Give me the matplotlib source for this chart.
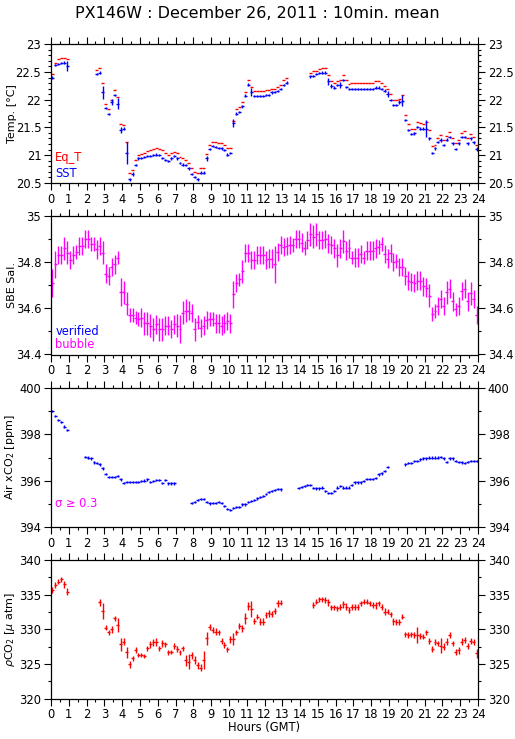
import numpy as np
import matplotlib
matplotlib.use("Agg")
import matplotlib.pyplot as plt
from matplotlib.ticker import MultipleLocator

nan = np.nan

# 10 minute means, 144 per day
eq_t = [22.46, 22.67, 22.74, 22.75, 22.76, 22.73,
        nan, nan, nan, nan, nan, nan, nan, nan, nan,
        22.54, 22.58, 22.30, 21.93, 21.84, 22.00, 22.17, 22.05, 21.56, 21.55, 21.23, 20.67, 20.74, 20.91, 21.01,
        21.02, 21.04, 21.07, 21.09, 21.11, 21.12, 21.11, 21.09, 21.04, 21.00, 21.03, 21.05,
        21.04, 20.97, 20.94, 20.91, 20.86, 20.76, 20.70, 20.67, 20.76, 20.76, 21.02, 21.19,
        21.24, 21.23, 21.22, 21.21, 21.18, 21.12, 21.12, 21.61, 21.83, 21.86, 21.96, 22.13,
        22.36, 22.23, 22.16, 22.16,
        22.16, 22.16, 22.17, 22.17, 22.20, 22.20, 22.23, 22.27, 22.36, 22.40,
        nan, nan, nan, nan, nan, nan, nan,
        22.49, 22.51, 22.52, 22.55, 22.57, 22.58, 22.45, 22.33, 22.31, 22.34, 22.36, 22.45, 22.36,
        22.28, 22.31, 22.31, 22.31, 22.31, 22.31, 22.31, 22.31, 22.31,
        22.33, 22.34, 22.31, 22.25, 22.19, 22.10, 22.00, 22.00, 22.02, 22.08,
        21.72, 21.56, 21.47, 21.48, 21.60, 21.58, 21.57, 21.59, 21.45, 21.16, 21.19, 21.30, 21.37,
        21.27, 21.35, 21.41, 21.30, 21.21, 21.27, 21.40, 21.43, 21.30, 21.38, 21.33, 21.19]

sst = [22.40, 22.62, 22.64, 22.66, 22.67, 22.60,
       nan, nan, nan, nan, nan, nan, nan, nan, nan,
       22.47, 22.49, 22.13, 21.85, 21.74, 21.96, 22.08, 21.93, 21.45, 21.48, 21.04, 20.56, 20.66, 20.82, 20.94,
       20.95, 20.96, 20.98, 20.99, 21.00, 21.01, 21.00, 20.95, 20.91, 20.89, 20.94, 20.98,
       20.94, 20.86, 20.83, 20.82, 20.76, 20.66, 20.61, 20.56, 20.68, 20.68, 20.94, 21.11,
       21.16, 21.15, 21.13, 21.12, 21.09, 21.01, 21.04, 21.58, 21.75, 21.78, 21.88, 22.07,
       22.27, 22.14, 22.07, 22.07,
       22.07, 22.07, 22.08, 22.08, 22.13, 22.14, 22.16, 22.19, 22.27, 22.31,
       nan, nan, nan, nan, nan, nan, nan,
       22.42, 22.43, 22.46, 22.48, 22.49, 22.49, 22.33, 22.25, 22.22, 22.27, 22.27, 22.36, 22.23,
       22.19, 22.19, 22.19, 22.19, 22.19, 22.19, 22.19, 22.19, 22.19,
       22.22, 22.22, 22.20, 22.16, 22.10, 21.99, 21.90, 21.90, 21.96, 21.98,
       21.63, 21.46, 21.38, 21.39, 21.51, 21.48, 21.48, 21.48, 21.30, 21.04, 21.12, 21.24, 21.27,
       21.18, 21.28, 21.32, 21.21, 21.11, 21.21, 21.32, 21.32, 21.21, 21.30, 21.23, 21.11]

sst_sd = [0.03, 0.02, 0.02, 0.02, 0.02, 0.09, 0, 0, 0, 0, 0, 0,
          0, 0, 0, 0.02, 0.02, 0.12, 0.02, 0.02, 0.05, 0.02, 0.10, 0.06,
          0.03, 0.20, 0.02, 0.03, 0.02, 0.02, 0.02, 0.02, 0.02, 0.02, 0.02, 0.02,
          0.02, 0.02, 0.02, 0.02, 0.02, 0.02, 0.02, 0.02, 0.02, 0.02, 0.02, 0.02,
          0.02, 0.02, 0.03, 0.03, 0.05, 0.02, 0.02, 0.02, 0.02, 0.02, 0.02, 0.02,
          0.02, 0.07, 0.02, 0.02, 0.03, 0.03, 0.03, 0.08, 0.02, 0.02, 0.02, 0.02,
          0.02, 0.02, 0.02, 0.02, 0.02, 0.02, 0.02, 0.02, 0, 0, 0, 0,
          0, 0, 0, 0.02, 0.02, 0.02, 0.02, 0.02, 0.02, 0.07, 0.03, 0.02,
          0.02, 0.05, 0.02, 0.02, 0.02, 0.02, 0.02, 0.02, 0.02, 0.02, 0.02, 0.02,
          0.02, 0.02, 0.02, 0.02, 0.03, 0.05, 0.02, 0.02, 0.02, 0.03, 0.10, 0.02,
          0.02, 0.02, 0.02, 0.02, 0.02, 0.02, 0.15, 0.02, 0.02, 0.02, 0.02, 0.03,
          0.02, 0.02, 0.02, 0.03, 0.02, 0.03, 0.02, 0.02, 0.03, 0.03, 0.03, 0.03]

sal = [34.71, 34.79, 34.83, 34.83, 34.86, 34.84, 34.81, 34.83, 34.845, 34.87, 34.87, 34.90,
       34.90, 34.88, 34.88, 34.855, 34.87, 34.84, 34.75, 34.74, 34.78, 34.79, 34.82, 34.67,
       34.67, 34.62, 34.57, 34.57, 34.56, 34.555, 34.56, 34.535, 34.535, 34.525, 34.51, 34.53,
       34.51, 34.51, 34.525, 34.525, 34.51, 34.53, 34.525, 34.51, 34.58, 34.59, 34.59, 34.58,
       34.51, 34.54, 34.515, 34.525, 34.55, 34.555, 34.555, 34.535, 34.535, 34.525, 34.535, 34.545,
       34.535, 34.66, 34.71, 34.725, 34.76, 34.84, 34.84, 34.81, 34.81, 34.83, 34.83, 34.83,
       34.81, 34.815, 34.815, 34.79, 34.845, 34.875, 34.865, 34.87, 34.875, 34.875, 34.90, 34.90,
       34.885, 34.86, 34.895, 34.92, 34.91, 34.92, 34.895, 34.895, 34.90, 34.88, 34.875, 34.86,
       34.83, 34.86, 34.89, 34.85, 34.86, 34.82, 34.82, 34.82, 34.835, 34.82, 34.85, 34.85,
       34.85, 34.86, 34.865, 34.88, 34.835, 34.815, 34.84, 34.80, 34.805, 34.78, 34.78, 34.74,
       34.72, 34.715, 34.71, 34.72, 34.72, 34.695, 34.69, 34.655, 34.575, 34.59, 34.61, 34.64,
       34.61, 34.67, 34.685, 34.63, 34.595, 34.61, 34.675, 34.685, 34.63, 34.665, 34.64, 34.57]

sal_sd = [0.06, 0.06, 0.04, 0.04, 0.05, 0.05, 0.04, 0.04, 0.03, 0.04, 0.04, 0.04,
          0.04, 0.03, 0.03, 0.04, 0.04, 0.05, 0.04, 0.04, 0.04, 0.04, 0.03, 0.06,
          0.05, 0.05, 0.03, 0.03, 0.03, 0.03, 0.04, 0.05, 0.05, 0.05, 0.05, 0.04,
          0.05, 0.05, 0.04, 0.04, 0.04, 0.04, 0.05, 0.06, 0.05, 0.05, 0.04, 0.04,
          0.05, 0.03, 0.04, 0.04, 0.04, 0.03, 0.03, 0.04, 0.04, 0.04, 0.04, 0.04,
          0.04, 0.06, 0.04, 0.03, 0.05, 0.04, 0.04, 0.04, 0.04, 0.04, 0.04, 0.04,
          0.04, 0.04, 0.04, 0.08, 0.04, 0.04, 0.04, 0.04, 0.04, 0.03, 0.04, 0.04,
          0.04, 0.03, 0.04, 0.05, 0.05, 0.05, 0.04, 0.04, 0.04, 0.04, 0.04, 0.04,
          0.05, 0.04, 0.05, 0.04, 0.04, 0.03, 0.04, 0.04, 0.04, 0.03, 0.04, 0.04,
          0.04, 0.04, 0.03, 0.03, 0.04, 0.04, 0.04, 0.04, 0.03, 0.04, 0.04, 0.04,
          0.04, 0.04, 0.04, 0.04, 0.04, 0.04, 0.04, 0.05, 0.03, 0.03, 0.04, 0.04,
          0.04, 0.05, 0.04, 0.04, 0.03, 0.04, 0.04, 0.04, 0.04, 0.05, 0.04, 0.04]

xco2 = [399.02, 398.81, 398.63, 398.53, 398.34, 398.19,
        nan, nan, nan, nan, nan,
        397.02, 397.00, 396.96, 396.79, 396.75, 396.70, 396.53, 396.28, 396.17, 396.17, 396.17, 396.20, 396.05,
        395.91, 395.95, 395.95, 395.95, 395.95, 395.95, 395.98, 396.00, 396.05, 395.95, 395.98, 396.03,
        396.02, 395.91, 396.02, 395.88, 395.88, 395.88,
        nan, nan, nan, nan, nan,
        395.04, 395.08, 395.16, 395.20, 395.20, 395.06, 395.01, 395.04, 395.04, 395.06, 395.04, 394.90,
        394.77, 394.72, 394.82, 394.87, 394.87, 394.97, 394.97, 395.06, 395.13, 395.16, 395.23,
        395.30, 395.34, 395.42, 395.52, 395.56, 395.58, 395.63, 395.62,
        nan, nan, nan, nan, nan,
        395.69, 395.73, 395.76, 395.81, 395.81, 395.69, 395.66, 395.66, 395.70, 395.55, 395.47, 395.45,
        395.55, 395.70, 395.78, 395.70, 395.70, 395.70, 395.81, 395.92, 395.92, 395.92, 395.98, 396.07,
        396.07, 396.07, 396.10, 396.27, 396.31, 396.41, 396.60,
        nan, nan, nan, nan, nan,
        396.70, 396.75, 396.75, 396.85, 396.86, 396.92, 396.96, 396.96, 397.00, 397.00, 397.00, 397.00,
        397.03, 396.96, 396.82, 396.96, 396.96, 396.85, 396.82, 396.79, 396.75, 396.82, 396.85, 396.85,
        396.86]

pco2 = [335.66, 336.39, 336.87, 337.20, 336.48, 335.42,
        nan, nan, nan, nan, nan, nan, nan, nan, nan, nan,
        333.88, 332.63, 330.22, 329.54, 329.98, 331.57, 330.60, 327.80, 328.19, 326.65, 324.96, 325.78,
        326.99, 326.27, 326.27, 326.17, 327.23, 327.81, 328.10, 328.19, 327.23, 327.95, 327.81, 326.65,
        326.75, 327.57, 327.13, 326.65, 327.23, 325.54, 325.30, 326.27, 325.54, 324.82, 324.43, 325.54,
        328.67, 330.36, 329.88, 329.64, 329.54, 328.34, 327.71, 327.08, 328.53, 328.58, 329.54, 330.46,
        330.12, 331.57, 333.40, 332.92, 331.18, 331.81, 331.08, 331.08, 332.05, 332.29, 332.19, 332.63,
        333.73, 333.83,
        nan, nan, nan, nan, nan, nan, nan, nan, nan, nan,
        333.49, 333.98, 334.31, 334.31, 334.22, 333.88, 333.16, 333.16, 333.01, 333.25, 333.59, 333.25,
        332.77, 333.25, 333.25, 333.25, 333.73, 333.98, 333.98, 333.73, 333.49, 333.49, 333.73, 333.25,
        332.53, 332.53, 332.14, 331.18, 331.08, 331.08, 331.81, 329.25, 329.16, 329.25, 329.16, 329.16,
        329.06, 328.92, 329.54, 328.29, 327.13, 328.19, 327.95, 327.61, 327.47, 328.19, 329.16, 327.95,
        326.75, 326.99, 328.19, 328.43, 327.61, 328.29, 328.19, 326.51]

pco2_sd = [0.4, 0.4, 0.4, 0.4, 0.5, 0.5, 0, 0, 0, 0, 0, 0,
           0, 0, 0, 0, 0.5, 1.2, 0.4, 0.4, 0.5, 0.4, 1.0, 1.0,
           0.5, 0.8, 0.5, 0.4, 0.4, 0.3, 0.3, 0.3, 0.4, 0.5, 0.5, 0.6,
           0.4, 0.5, 0.4, 0.4, 0.3, 0.4, 0.4, 0.4, 0.4, 0.8, 1.1, 0.5,
           0.6, 0.5, 0.5, 1.3, 1.0, 0.4, 0.4, 0.5, 0.4, 0.4, 0.4, 0.4,
           0.5, 0.9, 0.4, 0.4, 0.5, 0.8, 0.6, 1.1, 0.4, 0.4, 0.5, 0.5,
           0.4, 0.5, 0.4, 0.5, 0.5, 0.4, 0, 0, 0, 0, 0, 0,
           0, 0, 0, 0, 0.4, 0.4, 0.4, 0.4, 0.4, 0.5, 0.4, 0.4,
           0.4, 0.4, 0.5, 0.5, 0.4, 0.4, 0.4, 0.4, 0.4, 0.4, 0.4, 0.4,
           0.4, 0.5, 0.4, 0.4, 0.5, 0.4, 0.4, 0.5, 0.4, 0.4, 0.4, 0.4,
           0.4, 0.4, 0.4, 1.1, 0.4, 0.4, 0.4, 0.4, 0.4, 0.4, 0.4, 1.1,
           0.5, 0.5, 0.4, 0.4, 0.4, 0.5, 0.5, 0.4, 0.4, 0.4, 0.4, 0.7]

hours = (np.arange(144) + 0.5) / 6.0
hour_ticks = list(range(0, 25))

plt.rcParams['font.family'] = ['DejaVu Sans']
plt.rcParams['font.size'] = 8.3

fig = plt.figure(figsize=(5.15, 7.39), dpi=100)
fig.text(0.5, 1 - 13 / 739, 'PX146W : December 26, 2011 : 10min. mean',
         ha='center', va='center', fontsize=11.5)

left, width, height = 51 / 515, 427 / 515, 138.5 / 739
bottoms = [1 - 182.8 / 739, 1 - 354.5 / 739, 1 - 526.8 / 739, 1 - 698.5 / 739]
axes = [fig.add_axes([left, b, width, height]) for b in bottoms]


def style(ax, ylim, major, minor):
    ax.set_xlim(0, 24)
    ax.set_ylim(*ylim)
    ax.set_xticks(hour_ticks)
    ax.xaxis.set_minor_locator(MultipleLocator(0.5))
    ax.yaxis.set_major_locator(MultipleLocator(major))
    ax.yaxis.set_minor_locator(MultipleLocator(minor))
    ax.tick_params(which='both', direction='out', top=True, right=True,
                   labelright=True, width=0.8, pad=2)
    ax.tick_params(which='major', length=5)
    ax.tick_params(which='minor', length=2.5)
    for s in ax.spines.values():
        s.set_linewidth(0.9)


ekw = dict(fmt='none', elinewidth=1.0, capsize=0)

ax = axes[0]
ax.errorbar(hours, eq_t, xerr=1 / 12, ecolor='red', **ekw)
ax.errorbar(hours, sst, xerr=1 / 12, yerr=sst_sd, ecolor='blue', **ekw)
style(ax, (20.5, 23), 0.5, 0.1)
ax.set_yticks([20.5, 21, 21.5, 22, 22.5, 23])
ax.set_yticklabels(['20.5', '21', '21.5', '22', '22.5', '23'])
ax.text(0.01, 0.18, 'Eq_T', color='red', transform=ax.transAxes, va='center')
ax.text(0.01, 0.07, 'SST', color='blue', transform=ax.transAxes, va='center')

ax = axes[1]
ax.errorbar(hours, sal, xerr=1 / 12, yerr=sal_sd, ecolor='magenta', **ekw)
style(ax, (34.4, 35), 0.2, 0.1)
ax.set_yticks([34.4, 34.6, 34.8, 35])
ax.set_yticklabels(['34.4', '34.6', '34.8', '35'])
ax.text(0.01, 0.165, 'verified', color='blue', transform=ax.transAxes, va='center')
ax.text(0.01, 0.07, 'bubble', color='magenta', transform=ax.transAxes, va='center')

ax = axes[2]
ax.errorbar(hours, xco2, xerr=1 / 12, yerr=0.05, ecolor='blue', **ekw)
style(ax, (394, 400), 2, 1)
ax.text(0.01, 0.17, r'σ ≥ 0.3', color='magenta', transform=ax.transAxes, va='center')

ax = axes[3]
ax.errorbar(hours, pco2, xerr=1 / 12, yerr=pco2_sd, ecolor='red', **ekw)
style(ax, (320, 340), 5, 2.5)

ylabels = ['Temp. [°C]', 'SBE Sal.', r'Air xCO$_2$ [ppm]', r'$\rho$CO$_2$ [$\mu$ atm]']
for ax, lab in zip(axes, ylabels):
    ax.set_ylabel(lab, fontsize=8)
    ax.yaxis.set_label_coords(-0.079, 0.5)

fig.text(0.5135, 1 - 728 / 739, 'Hours (GMT)', ha='center', va='center')

fig.savefig('out.png', dpi=100)
